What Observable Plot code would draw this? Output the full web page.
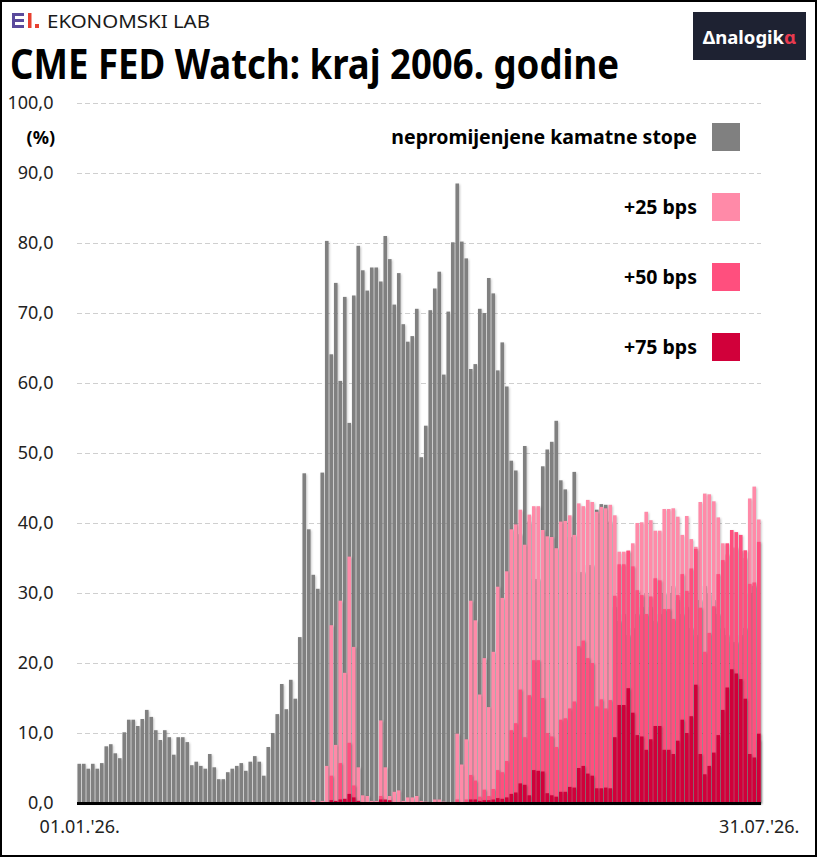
<!DOCTYPE html>
<html>
<head>
<meta charset="utf-8">
<script src="https://cdn.jsdelivr.net/npm/d3@7"></script>
<script src="https://cdn.jsdelivr.net/npm/@observablehq/plot@0.6"></script>
<style>
  html, body { margin: 0; padding: 0; background: #fff; }
  #wrap { position: relative; width: 817px; height: 857px; overflow: hidden; background: #fff; font-family: "Noto Sans", "Open Sans", sans-serif; }
  #frame { position: absolute; left: 0; top: 0; width: 817px; height: 857px; box-sizing: border-box; border: 2px solid #000; pointer-events: none; }
  #hdr { position: absolute; left: 0; top: 0; }
  #plot { position: absolute; left: 0; top: 90px; }
  .leg { position: absolute; right: 120px; font-weight: 700; font-size: 19.5px; color: #000; line-height: 28px; white-space: nowrap; }
  .sw { position: absolute; left: 712px; width: 28px; height: 28px; }
  #pct { position: absolute; right: 762px; top: 124px; font-weight: 700; font-size: 18px; line-height: 26px; color: #000; }
</style>
</head>
<body>
<div id="wrap">
  <svg id="hdr" width="817" height="90">
    <rect x="12" y="13" width="3" height="15" fill="#5a4a9c"/>
    <rect x="12" y="13" width="12" height="3" fill="#5a4a9c"/>
    <rect x="12" y="19" width="12" height="3" fill="#5a4a9c"/>
    <rect x="12" y="25" width="12" height="3" fill="#5a4a9c"/>
    <rect x="28" y="13" width="3.5" height="15" fill="#e8402f"/>
    <rect x="35" y="24" width="4" height="4" fill="#e8402f"/>
    <text x="47" y="28" font-family="Noto Sans" font-size="17.5" fill="#1a1a1a" textLength="163" lengthAdjust="spacingAndGlyphs">EKONOMSKI LAB</text>
    <text x="10" y="79" font-family="Noto Sans" font-weight="700" font-size="41" fill="#000" textLength="609" lengthAdjust="spacingAndGlyphs">CME FED Watch: kraj 2006. godine</text>
    <rect x="693" y="12" width="113" height="48" fill="#1e2232"/>
    <text x="749.5" y="44" text-anchor="middle" font-family="Noto Sans" font-weight="700" font-size="18.5" fill="#fff">Δnalogik<tspan fill="#e83a4f">α</tspan></text>
  </svg>
  <div id="plot"></div>
  <div id="pct">(%)</div>
  <div class="leg" style="top:123px">nepromijenjene kamatne stope</div>
  <div class="sw" style="top:123px;background:#808080"></div>
  <div class="leg" style="top:193px">+25 bps</div>
  <div class="sw" style="top:193px;background:#ff8aa8"></div>
  <div class="leg" style="top:263px">+50 bps</div>
  <div class="sw" style="top:263px;background:#ff4f7e"></div>
  <div class="leg" style="top:333px">+75 bps</div>
  <div class="sw" style="top:333px;background:#d1003a"></div>
  <div id="frame"></div>
</div>
<script>
// Trading days 01.01.2026 - 31.07.2026 (weekdays)
const dates = d3.utcDays(new Date(Date.UTC(2026, 0, 1)), new Date(Date.UTC(2026, 7, 1)))
  .filter(d => d.getUTCDay() !== 0 && d.getUTCDay() !== 6);

const seriesNames = ["nepromijenjene kamatne stope", "+25 bps", "+50 bps", "+75 bps"];
const seriesColors = ["#808080", "#ff8aa8", "#ff4f7e", "#d1003a"];

const unchanged = [
  5.6,5.6,4.9,5.6,4.9,5.7,8.1,8.4,7.1,6.4,
  10.1,11.9,11.9,11.0,12.0,13.3,12.3,10.4,9.0,10.4,
  9.4,6.9,9.4,9.4,8.7,5.4,5.9,5.3,4.9,7.0,
  5.1,3.4,3.4,4.4,4.9,5.3,5.7,4.6,5.9,6.7,
  5.9,3.9,8.0,10.0,12.7,17.0,13.4,17.6,14.9,23.7,
  47.1,39.1,32.6,30.6,47.2,80.3,64.1,74.3,60.3,72.3,
  54.3,72.5,79.6,76.1,73.2,76.5,76.5,74.5,81.0,77.7,
  71.2,75.7,68.4,65.9,66.7,70.6,49.4,53.9,70.4,73.5,
  75.9,61.2,70.2,80.1,88.5,80.2,77.8,62.0,62.7,70.6,
  70.0,75.0,72.8,61.8,65.8,59.5,48.9,47.5,38.4,51.0,
  40.2,32.0,32.0,48.1,50.5,51.6,54.6,46.1,44.8,38.0,
  47.3,33.0,33.0,34.0,34.0,41.9,42.7,42.6,40.2,28.0,
  26,27,24,25,27,28,30,28,26,27,
  30,30,31,29,27,28,25,24,29,31,
  30,29,27,25,24,23,23,24,25,30,
  31,9
];
const bps25 = [
  0,0,0,0,0,0,0,0,0,0,
  0,0,0,0,0,0,0,0,0,0,
  0,0,0,0,0,0,0,0,0,0,
  0,0,0,0,0,0,0,0,0,0,
  0,0,0,0,0,0,0,0,0,0,
  0,0,0.4,0,0.3,5.3,25.4,8.3,28.9,18.6,
  35.2,22.3,5.1,1.1,1.0,0.3,0.3,11.8,5.1,1.0,
  1.6,1.8,0.3,0.8,0.8,1.0,0.3,0.2,0,0.5,
  0.5,0.2,0,0,9.9,5.5,9.1,28.9,26.1,15.5,
  20.7,13.7,21.6,30.9,29.3,33.1,39.1,39.8,41.9,36.9,
  41.2,42.4,42.4,39.0,38.1,38.0,36.4,40.2,40.3,41.1,
  38.3,42.8,42.4,43.3,43.0,41.6,42.3,42.1,42.6,41.1,
  35.9,35.9,36.1,37.1,40.0,40.1,41.6,40.4,38.9,38.9,
  42.0,42.0,42.1,40.9,38.3,41.0,37.7,36.6,43.0,44.2,
  44.1,43.1,40.8,37.1,35.5,36.5,36.5,36.0,35.0,43.5,
  45.2,40.5
];
const bps50 = [
  0,0,0,0,0,0,0,0,0,0,
  0,0,0,0,0,0,0,0,0,0,
  0,0,0,0,0,0,0,0,0,0,
  0,0,0,0,0,0,0,0,0,0,
  0,0,0,0,0,0,0,0,0,0,
  0,0,0,0,0,0,3.9,0,5.7,0.5,
  8.6,2.5,0.3,0,0,0,0,1.0,0.3,0,
  0,0,0,0,0,0,0,0,0,0,
  0,0,0,0,0.5,0,0.5,4.0,3.2,0.9,
  1.9,1.0,2.0,4.7,4.4,6.0,10.4,11.4,16.2,9.4,
  15.4,20.4,20.4,15.0,10.0,9.5,8.0,11.9,12.1,13.5,
  14.5,22.4,23.2,20.7,20.0,13.8,14.8,13.5,14.7,29.6,
  34.1,34.1,36.0,33.8,30.4,29.7,27.0,29.5,32.1,31.8,
  27.7,27.7,26.3,29.7,32.7,30.3,33.5,36.3,27.9,21.6,
  24.3,28.1,32.7,34.7,37.1,39.0,38.7,38.3,36.1,31.3,
  31.5,37.3
];
const bps75 = [
  0,0,0,0,0,0,0,0,0,0,
  0,0,0,0,0,0,0,0,0,0,
  0,0,0,0,0,0,0,0,0,0,
  0,0,0,0,0,0,0,0,0,0,
  0,0,0,0,0,0,0,0,0,0,
  0,0,0,0,0,0,0.4,0.3,0.5,0.6,
  1.3,0.8,0.3,0,0,0,0,0.5,0.5,0.4,
  0,0,0,0,0,0,0,0,0,0,
  0,0,0,0,0,0,0,0.5,0.5,0.3,
  0.4,0.4,0.5,0.7,0.6,0.8,1.3,1.5,2.8,2.6,
  1.1,4.7,4.6,4.5,1.4,1.1,0.9,1.6,1.6,2.3,
  2.2,5.0,5.3,4.2,3.9,2.1,2.1,2.2,2.1,9.4,
  14.0,14.0,16.4,12.9,9.7,9.5,7.6,9.1,11.0,11.0,
  7.6,7.6,7.0,8.9,11.9,10.0,12.4,16.9,7.0,4.1,
  5.3,7.2,9.7,13.3,16.5,19.1,18.5,17.7,14.9,7.0,
  6.5,9.9
];
const yTicks = [0,10,20,30,40,50,60,70,80,90,100];
const xTickLabels = ["01.01.'26.", "31.07.'26."];

const series = [unchanged, bps25, bps50, bps75];
const rows = series.map((vals, s) => dates.map((d, i) => ({date: d, value: vals[i], s})));

const chart = Plot.plot({
  width: 817,
  height: 765,
  marginTop: 13,
  marginBottom: 52,
  marginLeft: 77,
  marginRight: 56,
  style: {fontFamily: "Noto Sans, sans-serif", fontSize: "18px", color: "#222", background: "transparent"},
  x: {type: "band", domain: dates, paddingInner: 0.2, paddingOuter: 0.1},
  y: {domain: [0, 100]},
  marks: [
    Plot.gridY(yTicks.filter(t => t > 0), {stroke: "#cfcfcf", strokeOpacity: 1, strokeDasharray: "5,3"}),
    ...rows.map((r, s) => Plot.barY(r, {x: "date", y: "value", fill: seriesColors[s]})),
    Plot.ruleY([0], {stroke: "#000", strokeWidth: 3}),
    Plot.axisY(yTicks, {tickSize: 0, tickPadding: 24, tickFormat: d => d.toFixed(1).replace(".", ","), label: null, fontSize: 18}),
    Plot.axisX([dates[0], dates[dates.length - 1]], {tickSize: 0, tickPadding: 17, tickFormat: (d, i) => xTickLabels[i], label: null, fontSize: 18})
  ]
});
document.getElementById("plot").appendChild(chart);
chart.querySelectorAll('g[aria-label="bar"]').forEach(g => {
  g.style.filter = "drop-shadow(1.5px 1px 1.2px rgba(0,0,0,0.22))";
});
</script>
</body>
</html>
